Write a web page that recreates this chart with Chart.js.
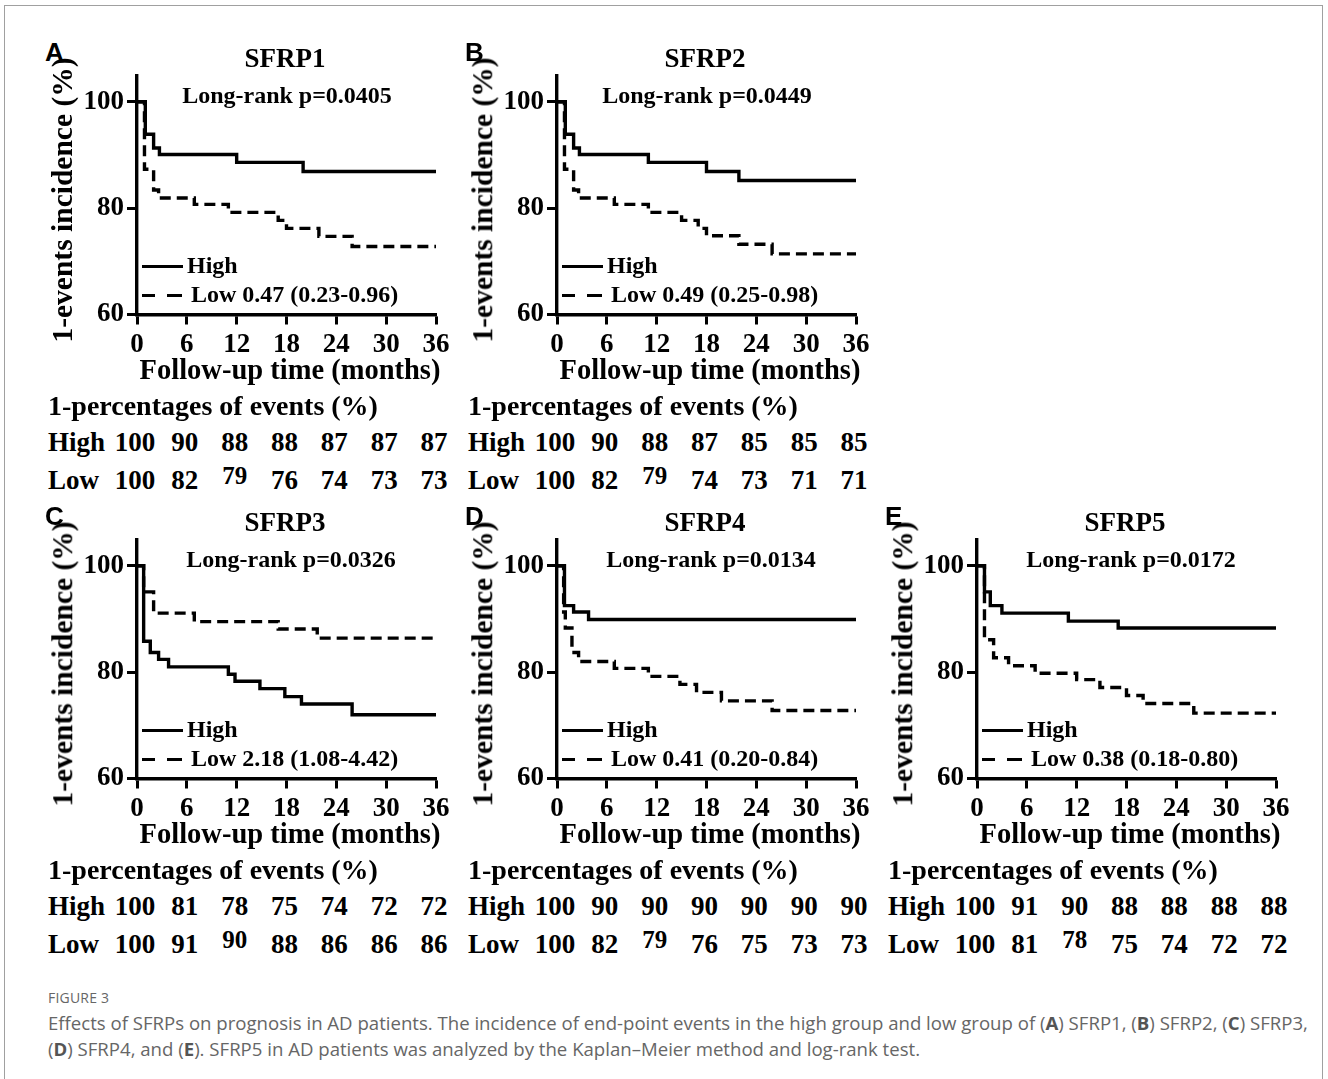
<!DOCTYPE html>
<html>
<head>
<meta charset="utf-8">
<script src="https://cdn.jsdelivr.net/npm/chart.js@4.4.1/dist/chart.umd.min.js"></script>
<style>
  body { margin: 0; background: #fff; }
  #fig { position: relative; width: 1328px; height: 1079px; overflow: hidden; background: #fff;
         font-family: 'Liberation Serif', 'Times New Roman', serif; font-weight: bold; color: #000; }
  #frame { position: absolute; left: 4px; top: 5px; width: 1317px; height: 1200px; border: 1px solid #a0a0a0; }
  .t { position: absolute; white-space: nowrap; line-height: 1; }
  .letter { font-family: 'Liberation Sans', Arial, sans-serif; font-size: 26px; }
  .bar { position: absolute; height: 3px; background: #000; }
  .cap { position: absolute; left: 48px; line-height: 1; font-family: 'Open Sans', sans-serif; font-weight: normal; color: #666; white-space: nowrap; }
  .cap b { font-weight: 700; color: #555; }
  canvas { position: absolute; }
</style>
</head>
<body>
<div id="fig">
  <div id="frame"></div>
  <div class="cap" style="top:991px;font-size:14px;letter-spacing:0.2px;">FIGURE 3</div>
  <div class="cap" style="top:1014px;font-size:18.6px;">Effects of SFRPs on prognosis in AD patients. The incidence of end-point events in the high group and low group of (<b>A</b>) SFRP1, (<b>B</b>) SFRP2, (<b>C</b>) SFRP3,</div>
  <div class="cap" style="top:1040px;font-size:18.6px;">(<b>D</b>) SFRP4, and (<b>E</b>). SFRP5 in AD patients was analyzed by the Kaplan&#8211;Meier method and log-rank test.</div>
</div>
<script>
// axis ticks
const monthTicks = [0, 6, 12, 18, 24, 30, 36];
const incidenceTicks = [60, 80, 100];

// panel labels
const panelLetters = ['A', 'B', 'C', 'D', 'E'];
const panelNames = ['SFRP1', 'SFRP2', 'SFRP3', 'SFRP4', 'SFRP5'];
const logRankP = ['0.0405', '0.0449', '0.0326', '0.0134', '0.0172'];
const lowLabels = ['Low  0.47 (0.23-0.96)', 'Low 0.49 (0.25-0.98)', 'Low 2.18 (1.08-4.42)',
                   'Low 0.41 (0.20-0.84)', 'Low 0.38 (0.18-0.80)'];

// Kaplan-Meier steps: month of each drop, level after it (%)
const sfrp1HighTime = [0, 1.0, 2.0, 2.7, 12.0, 20.0, 36];
const sfrp1HighSurv = [100, 93.9, 91.3, 90.1, 88.6, 86.9, 86.9];
const sfrp1LowTime = [0, 0.9, 2.0, 2.6, 6.9, 11.0, 17.0, 18.0, 21.9, 25.9, 36];
const sfrp1LowSurv = [100, 87.3, 83.4, 81.9, 80.7, 79.2, 77.7, 76.2, 74.7, 72.8, 72.8];

const sfrp2HighTime = [0, 1.0, 2.0, 2.7, 11.0, 18.0, 21.9, 36];
const sfrp2HighSurv = [100, 93.9, 91.3, 90.1, 88.6, 86.9, 85.2, 85.2];
const sfrp2LowTime = [0, 0.9, 2.0, 2.6, 6.9, 11.0, 15.0, 17.0, 18.0, 21.9, 25.9, 36];
const sfrp2LowSurv = [100, 87.3, 83.4, 81.9, 80.7, 79.2, 77.7, 76.2, 74.8, 73.2, 71.4, 71.4];

const sfrp3HighTime = [0, 0.8, 1.6, 2.6, 3.8, 11.0, 11.8, 14.8, 17.8, 19.8, 25.9, 36];
const sfrp3HighSurv = [100, 85.8, 83.7, 82.4, 81.0, 79.6, 78.3, 76.9, 75.4, 74.0, 72.0, 72.0];
const sfrp3LowTime = [0, 0.8, 2.0, 6.9, 17.0, 21.7, 36];
const sfrp3LowSurv = [100, 95.1, 91.1, 89.5, 88.1, 86.4, 86.4];

const sfrp4HighTime = [0, 0.9, 2.0, 3.8, 36];
const sfrp4HighSurv = [100, 92.5, 91.3, 89.9, 89.9];
const sfrp4LowTime = [0, 0.8, 1.0, 1.8, 2.6, 6.9, 11.0, 14.8, 16.8, 19.8, 25.9, 36];
const sfrp4LowSurv = [100, 91.3, 88.3, 83.7, 82.0, 80.7, 79.2, 77.7, 76.2, 74.6, 72.8, 72.8];

const sfrp5HighTime = [0, 0.9, 1.6, 3.0, 11.0, 17.0, 36];
const sfrp5HighSurv = [100, 95.1, 92.5, 91.1, 89.6, 88.3, 88.3];
const sfrp5LowTime = [0, 0.9, 2.0, 3.8, 7.0, 12.0, 14.8, 18.0, 20.0, 26.1, 36];
const sfrp5LowSurv = [100, 86.1, 82.7, 81.2, 79.8, 78.6, 77.1, 75.6, 74.1, 72.3, 72.3];

// 1-percentages of events table (%)
const sfrp1TableHigh = [100, 90, 88, 88, 87, 87, 87];
const sfrp1TableLow = [100, 82, 79, 76, 74, 73, 73];
const sfrp2TableHigh = [100, 90, 88, 87, 85, 85, 85];
const sfrp2TableLow = [100, 82, 79, 74, 73, 71, 71];
const sfrp3TableHigh = [100, 81, 78, 75, 74, 72, 72];
const sfrp3TableLow = [100, 91, 90, 88, 86, 86, 86];
const sfrp4TableHigh = [100, 90, 90, 90, 90, 90, 90];
const sfrp4TableLow = [100, 82, 79, 76, 75, 73, 73];
const sfrp5TableHigh = [100, 91, 90, 88, 88, 88, 88];
const sfrp5TableLow = [100, 81, 78, 75, 74, 72, 72];

const panels = [
    { high: [sfrp1HighTime, sfrp1HighSurv], low: [sfrp1LowTime, sfrp1LowSurv], tHigh: sfrp1TableHigh, tLow: sfrp1TableLow },
    { high: [sfrp2HighTime, sfrp2HighSurv], low: [sfrp2LowTime, sfrp2LowSurv], tHigh: sfrp2TableHigh, tLow: sfrp2TableLow },
    { high: [sfrp3HighTime, sfrp3HighSurv], low: [sfrp3LowTime, sfrp3LowSurv], tHigh: sfrp3TableHigh, tLow: sfrp3TableLow },
    { high: [sfrp4HighTime, sfrp4HighSurv], low: [sfrp4LowTime, sfrp4LowSurv], tHigh: sfrp4TableHigh, tLow: sfrp4TableLow },
    { high: [sfrp5HighTime, sfrp5HighSurv], low: [sfrp5LowTime, sfrp5LowSurv], tHigh: sfrp5TableHigh, tLow: sfrp5TableLow }
];

// where each panel sits on the page (offset from panel A)
const panelOrigin = [[0, 0], [420, 0], [0, 464], [420, 464], [840, 464]];

const SERIF = "'Liberation Serif', 'Times New Roman', serif";
const fig = document.getElementById('fig');

function addText(txt, x, y, size, align, cls) {
    const d = document.createElement('div');
    d.className = 't' + (cls ? ' ' + cls : '');
    d.textContent = txt;
    d.style.left = x + 'px';
    d.style.top = y + 'px';
    if (size) d.style.fontSize = size + 'px';
    d.style.transform = align === 'center' ? 'translate(-50%,-50%)' : 'translate(0,-50%)';
    fig.appendChild(d);
    return d;
}

function addBar(x, y, w) {
    const b = document.createElement('div');
    b.className = 'bar';
    b.style.left = x + 'px';
    b.style.top = (y - 1.5) + 'px';
    b.style.width = w + 'px';
    fig.appendChild(b);
}

function toPoints(pair) {
    return pair[0].map((t, i) => ({ x: t, y: pair[1][i] }));
}

function buildPanel(p, i) {
    const ox = panelOrigin[i][0];
    const oy = panelOrigin[i][1];

    const canvas = document.createElement('canvas');
    canvas.width = 374;
    canvas.height = 304;
    canvas.style.left = (77 + ox) + 'px';
    canvas.style.top = (56 + oy) + 'px';
    fig.appendChild(canvas);

    const tickFont = { family: SERIF, size: 27, weight: 'bold' };

    const chart = new Chart(canvas.getContext('2d'), {
        type: 'line',
        data: {
            datasets: [
                { label: 'High', data: toPoints(p.high), borderColor: '#000', borderWidth: 3.4,
                  stepped: true, pointRadius: 0, fill: false },
                { label: 'Low', data: toPoints(p.low), borderColor: '#000', borderWidth: 3.4,
                  borderDash: [11, 6], stepped: true, pointRadius: 0, fill: false }
            ]
        },
        options: {
            responsive: false,
            animation: false,
            devicePixelRatio: 1,
            layout: { padding: { top: 9.7, right: 15, left: 0, bottom: 0 } },
            plugins: { legend: { display: false }, tooltip: { enabled: false }, title: { display: false } },
            scales: {
                x: {
                    type: 'linear', min: 0, max: 36,
                    afterBuildTicks: s => { s.ticks = monthTicks.map(v => ({ value: v })); },
                    // fixed height, and let the layout padding alone decide the right edge
                    afterFit: s => { s.height = 45.5; s.paddingLeft = 0; s.paddingRight = 0; },
                    grid: { drawOnChartArea: false, tickLength: 10, tickWidth: 3, tickColor: '#000' },
                    border: { color: '#000', width: 3.4 },
                    ticks: { color: '#000', font: tickFont, padding: 4, maxRotation: 0, autoSkip: false }
                },
                y: {
                    type: 'linear', min: 60, max: 105,
                    afterBuildTicks: s => { s.ticks = incidenceTicks.map(v => ({ value: v })); },
                    afterFit: s => { s.width = 60; },
                    grid: { drawOnChartArea: false, tickLength: 10, tickWidth: 3, tickColor: '#000' },
                    border: { color: '#000', width: 3.4 },
                    ticks: { color: '#000', font: tickFont, padding: 3 }
                }
            }
        }
    });

    // panel letter, title, p value
    addText(panelLetters[i], 45 + ox, 52 + oy, null, 'left', 'letter');
    addText(panelNames[i], 285 + ox, 58 + oy, 27, 'center');
    addText('Long-rank p=' + logRankP[i], (oy ? 291 : 287) + ox, 95 + oy, 24, 'center');

    // rotated y title
    const yt = addText('1-events incidence (%)', 63 + ox, 200 + oy, 29.5, 'center');
    yt.style.transform = 'translate(-50%,-50%) rotate(-90deg)';

    // x title
    addText('Follow-up time (months)', 290 + ox, 370 + oy, 28.5, 'center');

    // legend inside the plot
    addBar(142 + ox, 266 + oy, 41);
    addText('High', 187 + ox, 265 + oy, 24, 'left');
    addBar(142 + ox, 295 + oy, 13);
    addBar(167 + ox, 295 + oy, 15);
    addText(lowLabels[i], 191 + ox, 294 + oy, 24, 'left');

    // table under the chart, columns follow the x ticks
    const left = 77 + ox;
    addText('1-percentages of events (%)', 48 + ox, 406 + oy, 28, 'left');
    addText('High', 48 + ox, 442 + oy, 27, 'left');
    addText('Low', 48 + ox, 480 + oy, 27, 'left');
    monthTicks.forEach((m, k) => {
        const px = left + chart.scales.x.getPixelForValue(m) - 2;
        addText(String(p.tHigh[k]), px, 442 + oy, 27, 'center');
        // the third value of the low row sits a little higher in the original
        const lift = k === 2 ? 5 : 0;
        addText(String(p.tLow[k]), px, 480 + oy - lift, k === 2 ? 25 : 27, 'center');
    });
}

panels.forEach(buildPanel);
</script>
</body>
</html>
